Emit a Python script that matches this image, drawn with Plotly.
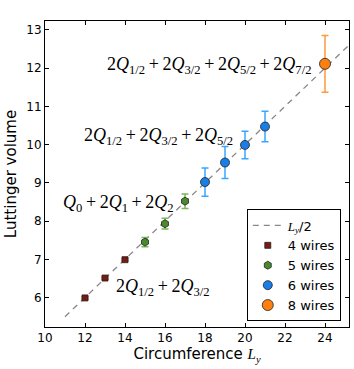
import plotly.graph_objects as go

# Luttinger volume vs circumference, grouped by number of wires
ly_4 = [12, 13, 14]
vol_4 = [5.99, 6.51, 6.99]
err_4 = [0.03, 0.03, 0.03]

ly_5 = [15, 16, 17]
vol_5 = [7.45, 7.93, 8.52]
err_5 = [0.12, 0.14, 0.19]

ly_6 = [18, 19, 20, 21]
vol_6 = [9.02, 9.53, 9.99, 10.47]
err_6 = [0.37, 0.42, 0.36, 0.40]

ly_8 = [24]
vol_8 = [12.11]
err_8 = [0.74]

line_x = [11, 26]
line_y = [x / 2 for x in line_x]

SERIF = "Liberation Serif"
SANS = "DejaVu Sans"
TS = "\u2009"  # thin space around the plus signs


def mi(s):
    return f'<span style="font-family:{SERIF}"><i>{s}</i></span>'


def q(sub):
    return f"<i>Q</i><sub>{sub}</sub>"


def plus(*terms):
    return f"{TS}+{TS}".join(terms)


fig = go.Figure()

fig.add_trace(go.Scatter(
    x=line_x, y=line_y, mode="lines",
    line=dict(color="#888888", width=1.3, dash="6px,5px"),
    name=f"{mi('L')}<sub>{mi('y')}</sub>/2",
))

groups = [
    ("4 wires", ly_4, vol_4, err_4, "#7a1a10", "#b05a50", "square", 6),
    ("5 wires", ly_5, vol_5, err_5, "#4a8a2a", "#7ab85a", "hexagon", 8),
    ("6 wires", ly_6, vol_6, err_6, "#1a7ee6", "#3aa5ff", "circle", 9),
    ("8 wires", ly_8, vol_8, err_8, "#ff7f0e", "#ff9a3a", "circle", 11),
]
for name, xs, ys, es, col, ecol, sym, size in groups:
    fig.add_trace(go.Scatter(
        x=xs, y=ys, mode="markers", name=name,
        marker=dict(color=col, symbol=sym, size=size,
                    line=dict(color="#222222", width=0.8)),
        error_y=dict(type="data", array=es, color=ecol, thickness=1.5, width=3.5),
    ))

ann_font = dict(family=SERIF, size=18, color="black")
annotations = [
    (23.4, 12.07, "right", plus(f"2{q('1/2')}", f"2{q('3/2')}", f"2{q('5/2')}", f"2{q('7/2')}")),
    (11.85, 10.22, "left", plus(f"2{q('1/2')}", f"2{q('3/2')}", f"2{q('5/2')}")),
    (10.8, 8.45, "left", plus(q('0'), f"2{q('1')}", f"2{q('2')}")),
    (13.45, 6.25, "left", plus(f"2{q('1/2')}", f"2{q('3/2')}")),
]
for ax, ay, anchor, txt in annotations:
    fig.add_annotation(x=ax, y=ay, xref="x", yref="y", text=txt,
                       showarrow=False, xanchor=anchor, yanchor="middle",
                       font=ann_font)

axis_common = dict(
    showgrid=False, zeroline=False, showline=True, linecolor="black",
    linewidth=1, mirror="ticks", ticks="inside", ticklen=4,
    tickcolor="black", tickfont=dict(family=SANS, size=12, color="black"),
    automargin=False,
)

fig.update_layout(
    width=354, height=369,
    margin=dict(l=45, r=5, t=21, b=42),
    plot_bgcolor="white", paper_bgcolor="white",
    font=dict(family=SANS, color="black"),
    xaxis=dict(range=[10, 25.2], dtick=2, tick0=10,
               title=dict(text=f"Circumference {mi('L')}<sub>{mi('y')}</sub>",
                          font=dict(family=SANS, size=15), standoff=2),
               **axis_common),
    yaxis=dict(range=[5.23, 13.23], dtick=1, tick0=6,
               title=dict(text="Luttinger volume",
                          font=dict(family=SANS, size=15), standoff=6),
               **axis_common),
    legend=dict(x=0.973, y=0.018, xanchor="right", yanchor="bottom",
                bgcolor="white", bordercolor="black", borderwidth=1,
                font=dict(family=SANS, size=13), tracegroupgap=0,
                itemwidth=30),
    showlegend=True,
)

# drop the page's default body margin so the figure sits at the window's corner
fig.write_html("out.html", config={"displayModeBar": False},
               post_script="document.body.style.margin='0';")
